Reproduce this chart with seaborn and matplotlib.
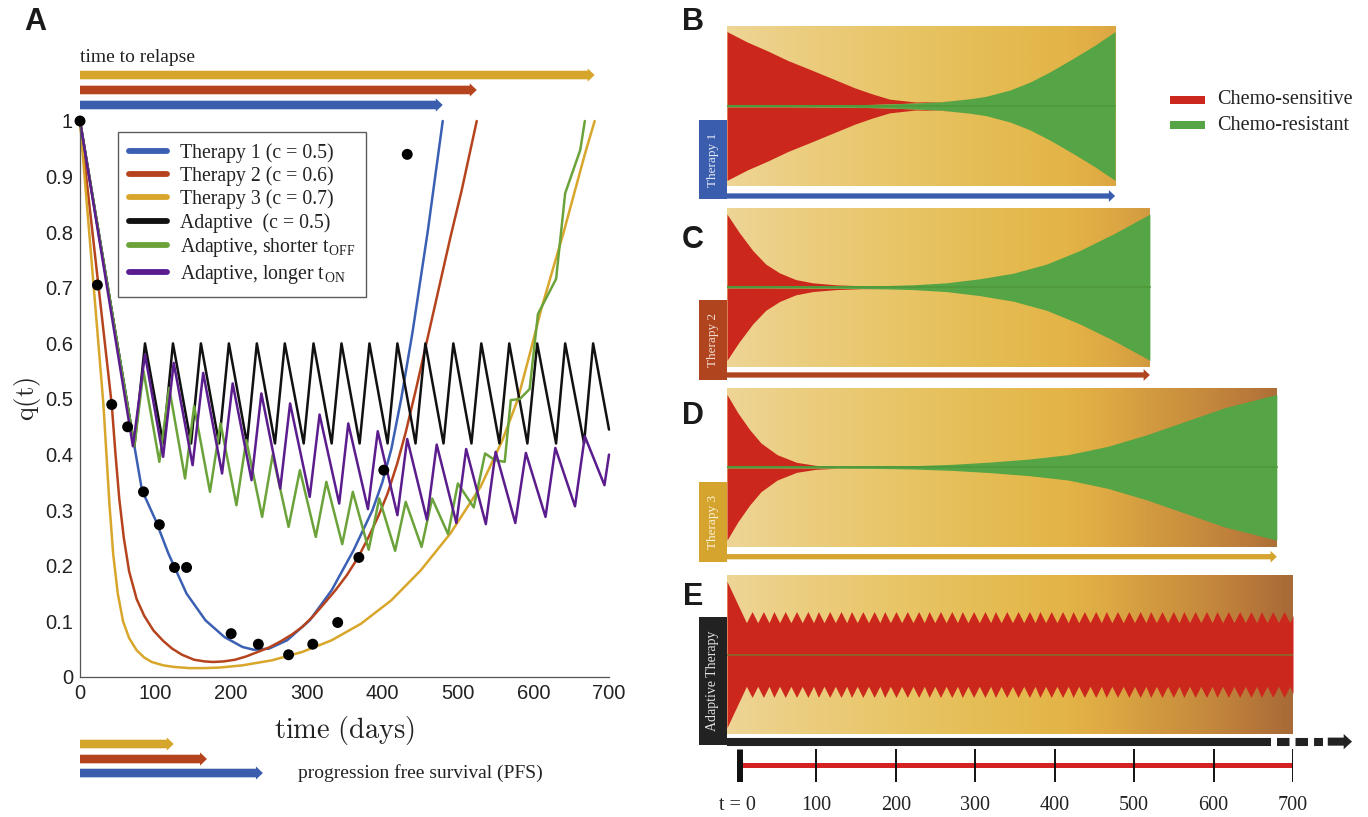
import numpy as np
import pandas as pd
import matplotlib
matplotlib.use("Agg")
import matplotlib.pyplot as plt
import matplotlib.transforms as mtransforms
from matplotlib.patches import FancyArrowPatch, Rectangle, ArrowStyle
from matplotlib.lines import Line2D
from matplotlib.colors import LinearSegmentedColormap
import seaborn as sns

# ------------------------------------------------------------------ data
series_names = ["Therapy 1 (c = 0.5)", "Therapy 2 (c = 0.6)", "Therapy 3 (c = 0.7)",
                "Adaptive  (c = 0.5)", r"Adaptive, shorter t$_\mathregular{OFF}$",
                r"Adaptive, longer t$_\mathregular{ON}$"]

t1_t = [0, 72, 82, 100, 117, 141, 166, 191, 215, 230, 250, 274, 304, 333, 362, 387, 400, 412,
        425, 440, 460, 480]
t1_q = [1.0, 0.415, 0.336, 0.282, 0.222, 0.15, 0.102, 0.072, 0.054, 0.049, 0.051, 0.066, 0.102,
        0.156, 0.228, 0.30, 0.35, 0.41, 0.50, 0.62, 0.80, 1.0]

t2_t = [0, 42, 47, 52, 58, 65, 75, 85, 97, 110, 122, 135, 151, 165, 176, 190, 205, 220, 235, 250,
        264, 280, 294, 309, 323, 338, 353, 368, 382, 395, 407, 420, 431, 445, 460, 475, 490, 505, 525]
t2_q = [1.0, 0.49, 0.40, 0.32, 0.25, 0.19, 0.14, 0.11, 0.084, 0.065, 0.051, 0.04, 0.031, 0.028,
        0.027, 0.028, 0.031, 0.037, 0.045, 0.053, 0.063, 0.076, 0.09, 0.11, 0.132, 0.156, 0.183,
        0.215, 0.252, 0.29, 0.33, 0.385, 0.44, 0.52, 0.61, 0.70, 0.79, 0.875, 1.0]

t3_t = [0, 31, 35, 39, 44, 50, 57, 65, 75, 85, 95, 110, 125, 145, 165, 185, 215, 254, 294, 333,
        372, 412, 451, 490, 530, 559, 579, 595, 610, 625, 640, 655, 668, 681]
t3_q = [1.0, 0.49, 0.40, 0.31, 0.22, 0.15, 0.10, 0.07, 0.048, 0.035, 0.027, 0.021, 0.018, 0.016,
        0.016, 0.017, 0.021, 0.03, 0.045, 0.066, 0.096, 0.138, 0.192, 0.258, 0.342, 0.426, 0.498,
        0.58, 0.66, 0.73, 0.80, 0.875, 0.94, 1.0]

ad_t = [0, 72, 86, 110, 123, 147, 160, 184, 197, 221, 234, 258, 271, 296, 309, 333, 346, 370,
        383, 407, 420, 444, 457, 481, 494, 518, 531, 555, 568, 592, 605, 630, 642, 667, 679, 700]
ad_q = [1.0, 0.415, 0.6, 0.42, 0.6, 0.42, 0.6, 0.42, 0.6, 0.42, 0.6, 0.42, 0.6, 0.42, 0.6, 0.42,
        0.6, 0.42, 0.6, 0.42, 0.6, 0.42, 0.6, 0.42, 0.6, 0.42, 0.6, 0.42, 0.6, 0.42, 0.6, 0.42,
        0.6, 0.42, 0.6, 0.445]

sh_t = [0, 72, 84, 105, 118, 139, 151, 172, 186, 207, 220, 241, 255, 276, 291, 312, 326, 347, 361,
        382, 396, 417, 431, 452, 466, 487, 500, 521, 536, 549, 562, 570, 582, 595, 606, 630, 642,
        662, 668]
sh_q = [1.0, 0.415, 0.55, 0.387, 0.52, 0.357, 0.487, 0.333, 0.456, 0.309, 0.426, 0.288, 0.40,
        0.27, 0.372, 0.252, 0.351, 0.239, 0.333, 0.229, 0.321, 0.227, 0.315, 0.234, 0.321, 0.257,
        0.348, 0.305, 0.402, 0.39, 0.387, 0.498, 0.50, 0.518, 0.653, 0.716, 0.87, 0.948, 1.0]

lo_t = [0, 70, 86, 110, 124, 149, 163, 188, 202, 227, 240, 265, 278, 304, 317, 343, 355, 381, 394,
        420, 433, 459, 472, 498, 511, 537, 550, 576, 590, 616, 629, 655, 668, 694, 700]
lo_q = [1.0, 0.415, 0.58, 0.396, 0.565, 0.381, 0.547, 0.366, 0.528, 0.354, 0.51, 0.339, 0.492,
        0.324, 0.472, 0.312, 0.456, 0.302, 0.442, 0.291, 0.428, 0.283, 0.418, 0.277, 0.41, 0.275,
        0.405, 0.277, 0.403, 0.288, 0.412, 0.307, 0.433, 0.345, 0.40]

dots_t = [0, 23, 42, 63, 84, 105, 125, 141, 200, 236, 276, 308, 341, 369, 402, 433]
dots_q = [1.0, 0.705, 0.49, 0.45, 0.333, 0.274, 0.197, 0.197, 0.078, 0.059, 0.04, 0.059, 0.098,
          0.215, 0.372, 0.94]

relapse_days = [480, 525, 681]      # therapy 1, 2, 3
pfs_days = [242, 168, 124]          # therapy 1, 2, 3

x_ticks = [0, 100, 200, 300, 400, 500, 600, 700]
y_ticks = [0, 0.1, 0.2, 0.3, 0.4, 0.5, 0.6, 0.7, 0.8, 0.9, 1.0]
y_ticklabels = ["0", "0.1", "0.2", "0.3", "0.4", "0.5", "0.6", "0.7", "0.8", "0.9", "1"]

# population envelopes (half-height units)
b_t = [0, 25, 50, 75, 104, 130, 158, 180, 201, 233, 266, 300, 320, 350, 375, 400, 429, 455, 480]
b_sens = [0.92, 0.79, 0.68, 0.56, 0.44, 0.33, 0.21, 0.13, 0.06, 0.012, 0.002, 0, 0, 0, 0, 0, 0, 0, 0]
b_res = [0.01, 0.01, 0.01, 0.01, 0.012, 0.014, 0.017, 0.02, 0.026, 0.038, 0.053, 0.09, 0.12, 0.2,
         0.30, 0.43, 0.60, 0.76, 0.93]

c_t = [0, 15, 32, 48, 65, 85, 106, 135, 168, 200, 230, 271, 312, 354, 395, 436, 478, 523]
c_sens = [0.912, 0.682, 0.452, 0.282, 0.171, 0.086, 0.044, 0.017, 0.002, 0, 0, 0, 0, 0, 0, 0, 0, 0]
c_res = [0.008, 0.008, 0.008, 0.008, 0.009, 0.01, 0.011, 0.013, 0.016, 0.022, 0.03, 0.055, 0.105,
         0.176, 0.29, 0.46, 0.67, 0.92]

d_t = [0, 13.5, 28, 42, 62, 86, 110, 134, 182, 230, 278, 326, 374, 422, 471, 519, 567, 615, 680]
d_sens = [0.912, 0.68, 0.47, 0.301, 0.154, 0.056, 0.017, 0.003, 0, 0, 0, 0, 0, 0, 0, 0, 0, 0, 0]
d_res = [0.006, 0.006, 0.006, 0.006, 0.006, 0.007, 0.008, 0.01, 0.013, 0.021, 0.038, 0.067, 0.105,
         0.16, 0.265, 0.41, 0.58, 0.75, 0.918]

e_start = (0, 0.92)
e_trough_t = [24, 38, 52, 65, 79, 93, 107, 120, 134, 148, 161, 175, 189, 202, 216, 230, 244, 257,
              271, 285, 298, 312, 326, 339, 353, 367, 381, 394, 408, 422, 435, 449, 463, 476, 490,
              504, 518, 531, 545, 559, 572, 586, 600, 613, 627, 641, 655, 668, 682, 696]
e_peak_t = [31, 45, 58, 72, 86, 100, 113, 127, 141, 154, 168, 182, 195, 209, 223, 237, 250, 264,
            278, 291, 305, 319, 332, 346, 360, 374, 387, 401, 415, 428, 442, 456, 469, 483, 497,
            511, 524, 538, 552, 565, 579, 593, 606, 620, 634, 648, 661, 675, 689]
e_trough_h = 0.40
e_peak_h = 0.54
e_end = (700, 0.49)
adaptive_solid_end = 673

timeline_ticks = [0, 100, 200, 300, 400, 500, 600, 700]
timeline_labels = ["t = 0", "100", "200", "300", "400", "500", "600", "700"]

# ------------------------------------------------------------------ style
sns.set_style("white")
plt.rcParams["font.family"] = ["Liberation Serif", "DejaVu Serif"]
plt.rcParams["mathtext.fontset"] = "cm"

W, H = 1368, 817
def px_rect(x0, y0, x1, y1):
    return [x0 / W, 1 - y1 / H, (x1 - x0) / W, (y1 - y0) / H]

line_colors = ["#3B60B3", "#B5441E", "#D8A62B", "#111111", "#6BA33A", "#5B1D8D"]
fill_red = "#CC271C"
fill_green = "#55A445"
txt_col = "#222222"

fig = plt.figure(figsize=(13.68, 8.17), dpi=100)

# ------------------------------------------------------------------ panel A
axA = fig.add_axes(px_rect(80, 121, 609, 677))
frames = []
for name, tt, qq in zip(series_names, [t1_t, t2_t, t3_t, ad_t, sh_t, lo_t],
                        [t1_q, t2_q, t3_q, ad_q, sh_q, lo_q]):
    frames.append(pd.DataFrame({"t": tt, "q": qq, "series": name}))
df = pd.concat(frames, ignore_index=True)
sns.lineplot(data=df, x="t", y="q", hue="series", hue_order=series_names,
             palette=line_colors, estimator=None, sort=False, lw=1.8, legend=False, ax=axA)
for ln in axA.lines:
    ln.set_clip_on(False)
sns.scatterplot(x=dots_t, y=dots_q, color="black", s=62, edgecolor="none", ax=axA,
                zorder=6, clip_on=False)

axA.set_xlim(0, 700)
axA.set_ylim(0, 1)
axA.set_xticks(x_ticks)
axA.set_yticks(y_ticks)
axA.set_yticklabels(y_ticklabels)
axA.tick_params(direction="in", length=4, width=0.8, color="#555555", labelsize=14.5,
                pad=5, labelcolor=txt_col)
for lab in axA.get_xticklabels() + axA.get_yticklabels():
    lab.set_family("Liberation Sans")
sns.despine(ax=axA)
for sp in ["left", "bottom"]:
    axA.spines[sp].set_color("#555555")
    axA.spines[sp].set_linewidth(0.9)
axA.set_xlabel("")
axA.set_ylabel("")
axA.text(0.5, -0.097, r"$\mathrm{time\ (days)}$", transform=axA.transAxes, ha="center",
         va="center", fontsize=20.5, color=txt_col)
axA.text(-0.1, 0.5, r"$\mathrm{q(t)}$", transform=axA.transAxes, ha="center",
         va="center", fontsize=19, rotation=90, color=txt_col)

handles = [Line2D([0], [0], color=c, lw=4.2) for c in line_colors]
leg = axA.legend(handles, series_names, loc="upper left", bbox_to_anchor=(0.0718, 0.98),
                 borderaxespad=0, frameon=True, fancybox=False, fontsize=14.2,
                 handlelength=1.95, handletextpad=0.65, labelspacing=0.18, borderpad=0.55)
leg.get_frame().set_edgecolor("#333333")
leg.get_frame().set_linewidth(1.0)
for t in leg.get_texts():
    t.set_color(txt_col)

transA = mtransforms.blended_transform_factory(axA.transData, axA.transAxes)
big_arrow = ArrowStyle.Simple(head_length=5, head_width=9.5, tail_width=6.2)
arrow_cols = ["#3A5DAE", "#B5441E", "#D6A52C"]
for tt, yy, c in zip(relapse_days, [1.0288, 1.0558, 1.0827], arrow_cols):
    axA.add_artist(FancyArrowPatch((0, yy), (tt, yy), transform=transA, arrowstyle=big_arrow,
                                   mutation_scale=1, color=c, shrinkA=0, shrinkB=0,
                                   clip_on=False, lw=0))
for tt, yy, c in zip(pfs_days, [-0.1727, -0.1475, -0.1205], arrow_cols):
    axA.add_artist(FancyArrowPatch((0, yy), (tt, yy), transform=transA, arrowstyle=big_arrow,
                                   mutation_scale=1, color=c, shrinkA=0, shrinkB=0,
                                   clip_on=False, lw=0))
axA.text(0, 1.115, "time to relapse", transform=transA, ha="left", va="center", fontsize=14,
         color=txt_col)
axA.text(288, -0.1727, "progression free survival (PFS)", transform=transA, ha="left",
         va="center", fontsize=14, color=txt_col)

# ------------------------------------------------------------------ panels B-E
bg_cmap = LinearSegmentedColormap.from_list("bg", [
    (0.0, "#EED596"), (0.1, "#ECCF84"), (0.3, "#E8C567"), (0.45, "#E5BD55"), (0.6, "#E3B447"),
    (0.68, "#DDA843"), (0.75, "#D29A40"), (0.84, "#C78B3D"), (0.92, "#B97A3A"), (1.0, "#A86A37")])

def gradient(ax, t_end):
    xs = np.linspace(0, t_end, 400)
    img = bg_cmap(xs / 700.0)[None, :, :]
    ax.imshow(img, extent=(0, t_end, -1, 1), aspect="auto", interpolation="bilinear", zorder=0)

def setup(ax):
    ax.set_xlim(0, 700)
    ax.set_ylim(-1, 1)
    ax.axis("off")

def label_box(ax, y0, y1, color, text, tcolor, fs=9.5):
    r = Rectangle((-0.0495, y0), 0.0495, y1 - y0, transform=ax.transAxes, color=color,
                  clip_on=False, lw=0, zorder=3)
    ax.add_artist(r)
    ax.text(-0.0495 / 2, (y0 + y1) / 2, text, transform=ax.transAxes, rotation=90,
            ha="center", va="center", fontsize=fs, color=tcolor, zorder=4)

small_arrow = ArrowStyle.Simple(head_length=4.5, head_width=8.5, tail_width=3.8)

panels = [
    ("B", px_rect(727, 26, 1293, 186), b_t, b_sens, b_res, "#3A5DAE", "Therapy 1", "#E4E9F5",
     (-0.081, 0.4125), -0.0625, 22),
    ("C", px_rect(727, 207.7, 1293, 366.7), c_t, c_sens, c_res, "#B0441F", "Therapy 2", "#F2DCD0",
     (-0.084, 0.42), -0.052, 240),
    ("D", px_rect(727, 388, 1293, 546.7), d_t, d_sens, d_res, "#D5A42E", "Therapy 3", "#FBF1D6",
     (-0.0945, 0.41), -0.063, 416),
]
for letter, rect, tt, ss, rr, bcol, btxt, tcol, (by0, by1), ay, ly in panels:
    ax = fig.add_axes(rect)
    setup(ax)
    tt = np.asarray(tt, float)
    ss = np.asarray(ss, float)
    rr = np.asarray(rr, float)
    gradient(ax, tt[-1])
    ax.fill_between(tt, rr, rr + ss, color=fill_red, lw=0, zorder=1)
    ax.fill_between(tt, -rr - ss, -rr, color=fill_red, lw=0, zorder=1)
    ax.fill_between(tt, -rr, rr, color=fill_green, lw=0, zorder=1)
    ax.plot([tt[0], tt[-1]], [0, 0], color="#4E9A3C", lw=1.4, zorder=2)
    label_box(ax, by0, by1, bcol, btxt, tcol)
    tr = mtransforms.blended_transform_factory(ax.transData, ax.transAxes)
    ax.add_artist(FancyArrowPatch((0, ay), (tt[-1], ay), transform=tr, arrowstyle=small_arrow,
                                  mutation_scale=1, color=bcol, shrinkA=0, shrinkB=0,
                                  clip_on=False, lw=0))
    fig.text(693 / W, 1 - ly / H, letter, fontsize=22, fontweight="bold",
             family="Liberation Sans", ha="center", va="center", color="#1a1a1a")

# panel E (adaptive)
axE = fig.add_axes(px_rect(727, 575, 1293, 734))
setup(axE)
pts = [e_start] + [(t, e_trough_h) for t in e_trough_t] + [(t, e_peak_h) for t in e_peak_t] + [e_end]
pts.sort()
e_t = np.array([p[0] for p in pts], float)
e_h = np.array([p[1] for p in pts], float)
gradient(axE, e_t[-1])
axE.fill_between(e_t, -e_h, e_h, color=fill_red, lw=0, zorder=1)
axE.plot([e_t[0], e_t[-1]], [0, 0], color="#8A6A2C", lw=1.2, zorder=2)
label_box(axE, -0.069, 0.738, "#222222", "Adaptive Therapy", "#E2E2E2", fs=10)
trE = mtransforms.blended_transform_factory(axE.transData, axE.transAxes)
axE.plot([0, adaptive_solid_end], [-0.048, -0.048], transform=trE, color="#222222", lw=5.8,
         solid_capstyle="butt", clip_on=False)
axE.plot([adaptive_solid_end + 7, 737], [-0.048, -0.048], transform=trE, color="#222222",
         lw=5.8, dashes=(1.55, 0.75), dash_capstyle="butt", clip_on=False)
axE.add_artist(FancyArrowPatch((743, -0.048), (773, -0.048), transform=trE,
                               arrowstyle=ArrowStyle.Simple(head_length=6, head_width=11,
                                                            tail_width=5.8),
                               mutation_scale=1, color="#222222", shrinkA=0, shrinkB=0,
                               clip_on=False, lw=0))
fig.text(693 / W, 1 - 597 / H, "E", fontsize=22, fontweight="bold", family="Liberation Sans",
         ha="center", va="center", color="#1a1a1a")
fig.text(35 / W, 1 - 22 / H, "A", fontsize=22, fontweight="bold", family="Liberation Sans",
         ha="center", va="center", color="#1a1a1a")

# legend for populations
axL = fig.add_axes(px_rect(1160, 85, 1368, 140))
axL.set_xlim(0, 208)
axL.set_ylim(55, 0)
axL.axis("off")
for yy, col, txt in [(15, fill_red, "Chemo-sensitive"), (40, fill_green, "Chemo-resistant")]:
    axL.add_patch(Rectangle((10, yy - 4), 35, 8, color=col, lw=0))
    axL.text(57, yy, txt, ha="left", va="center", fontsize=14.5, color=txt_col)

# timeline
axT = fig.add_axes(px_rect(737, 749, 1293, 782))
axT.set_xlim(0, 700)
axT.set_ylim(0, 1)
axT.axis("off")
axT.plot([timeline_ticks[0], timeline_ticks[-1]], [0.515, 0.515], color="#D42222", lw=3.6,
         solid_capstyle="butt")
axT.vlines(timeline_ticks[1:], 0.0, 1.0, color="#111111", lw=1.4)
axT.vlines([timeline_ticks[0]], 0.0, 1.0, color="#111111", lw=7.9)
for tt, lab in zip(timeline_ticks, timeline_labels):
    axT.text(tt, -0.7, lab, ha="center", va="center", fontsize=14.5, color=txt_col,
             clip_on=False)

fig.savefig("out.png", dpi=100)
